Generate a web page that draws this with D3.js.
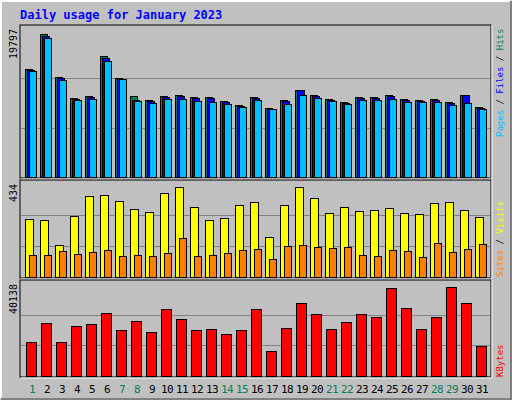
<!DOCTYPE html>
<html>
<head>
<meta charset="UTF-8">
<style>
  body { margin: 0; background: #fff; }
  text { font-family: "DejaVu Sans Mono", monospace; }
</style>
</head>
<body>
<div id="chart"></div>
<script src="https://d3js.org/d3.v7.min.js"></script>
<script>
var days = d3.range(1, 32);
var weekend = [1, 7, 8, 14, 15, 21, 22, 28, 29];
var hits = [14911, 19797, 13834, 10870, 11140, 16703, 13699, 11140, 10601, 11140, 11274, 11005, 11005, 10466, 9927, 11005,
            9523, 10601, 12083, 11274, 10736, 10331, 11005, 11005, 11274, 10736, 10601, 10736, 10331, 11409, 9658];
var files = [14780, 19530, 13700, 10740, 11000, 16430, 13560, 10600, 10470, 11000, 11140, 10870, 10870, 10330, 9790, 10870,
             9390, 10470, 11990, 11140, 10600, 10200, 10870, 10870, 11140, 10600, 10470, 10600, 10200, 11300, 9520];
var pages = [14642, 19222, 13430, 10601, 10736, 15989, 13564, 10466, 10197, 10736, 10736, 10466, 10331, 10062, 9658, 10641,
             9389, 10062, 11274, 10870, 10466, 10062, 10601, 10601, 10736, 10331, 10331, 10331, 9927, 10197, 9389];
var visits = [279, 275, 153, 293, 392, 396, 368, 326, 312, 406, 433, 340, 275, 284, 350, 364,
              195, 350, 434, 382, 307, 336, 317, 322, 331, 307, 303, 359, 364, 322, 289];
var sites = [106, 106, 125, 111, 120, 130, 102, 106, 102, 116, 186, 102, 106, 116, 130, 134,
             88, 148, 153, 144, 139, 144, 106, 102, 130, 125, 97, 162, 120, 134, 158];
var kbytes = [15108, 23892, 15108, 22575, 23453, 28284, 20818, 24771, 19940, 30041, 25649, 20818, 21257, 19061, 20818, 30041,
              11156, 21696, 32676, 27845, 21257, 24332, 27845, 26528, 39264, 30480, 21257, 26528, 40138, 32676, 13352];

var W = 512, H = 400;
var svg = d3.select("#chart").append("svg").attr("width", W).attr("height", H);

// frame
svg.append("rect").attr("width", W).attr("height", H).attr("fill", "#C0C0C0");
svg.append("path").attr("d", "M1,399V1H511").attr("stroke", "#fff").attr("stroke-width", 2).attr("fill", "none");
svg.append("path").attr("d", "M511,1V399H1").attr("stroke", "#808080").attr("stroke-width", 2).attr("fill", "none");

svg.append("text").text("Daily usage for January 2023")
  .attr("x", 20).attr("y", 19).attr("fill", "#0000FF")
  .style("font-size", "12px").style("font-weight", "bold");

var x = d3.scaleLinear().domain([1, 31]).range([25, 475]);

function panel(top, bottom, maxVal, label) {
  svg.append("rect").attr("x", 20).attr("y", top).attr("width", 471).attr("height", bottom - top)
    .attr("fill", "#C0C0C0").attr("stroke", "#000");
  svg.append("path").attr("d", "M21," + (bottom + 1) + "H492V" + (top))
    .attr("stroke", "#fff").attr("fill", "none");
  var y = d3.scaleLinear().domain([0, maxVal]).range([bottom - 1, top + 4]);
  [1, 2].forEach(function (k) {
    var gy = Math.round(bottom - 1 - (bottom - 1 - (top + 4)) * k / 3) + 0.5;
    svg.append("line").attr("x1", 21).attr("x2", 490).attr("y1", gy).attr("y2", gy)
      .attr("stroke", "#808080");
  });
  svg.append("text").text(label)
    .attr("transform", "translate(17," + (top + 4) + ") rotate(-90)")
    .attr("text-anchor", "end").style("font-size", "10px").attr("fill", "#000");
  return y;
}

function bars(y, data, off, w, color) {
  svg.append("g").selectAll("rect").data(data).join("rect")
    .attr("x", function (d, i) { return x(days[i]) + off + 0.5; })
    .attr("y", function (d) { return Math.round(y(d)) + 0.5; })
    .attr("width", w)
    .attr("height", function (d) { return y(0) - Math.round(y(d)); })
    .attr("fill", color).attr("stroke", "#000");
}

var y1 = panel(25, 178, 19797 * 152 / 147, "19797");
bars(y1, hits, 0, 7, "#00805C");
bars(y1, files, 2, 7, "#0000FF");
bars(y1, pages, 4, 7, "#00C0FF");

var y2 = panel(180, 278, 449, "434");
bars(y2, visits, 0, 8, "#FFFF00");
bars(y2, sites, 4, 7, "#FF8000");

var y3 = panel(280, 377, 40138 * 94 / 91.4, "40138");
bars(y3, kbytes, 1, 10, "#FF0000");

// day labels
svg.append("g").selectAll("text").data(days).join("text")
  .text(function (d) { return d; })
  .attr("x", function (d) { return x(d) + 7; })
  .attr("y", 393).attr("text-anchor", "middle")
  .style("font-size", "11px").style("letter-spacing", "-0.5px")
  .attr("fill", function (d) { return weekend.indexOf(d) >= 0 ? "#00805C" : "#000"; });

// right side legends
function legend(yBottom, parts) {
  var t = svg.append("text")
    .attr("transform", "translate(503," + yBottom + ") rotate(-90)")
    .style("font-size", "9px");
  parts.forEach(function (p) {
    t.append("tspan").text(p[0]).attr("fill", p[1]);
  });
}
legend(137, [["Pages", "#00C0FF"], [" / ", "#000"], ["Files", "#0000FF"], [" / ", "#000"], ["Hits", "#00805C"]]);
legend(277, [["Sites", "#FF8000"], [" / ", "#000"], ["Visits", "#FFFF00"]]);
legend(377, [["KBytes", "#FF0000"]]);
</script>
</body>
</html>
